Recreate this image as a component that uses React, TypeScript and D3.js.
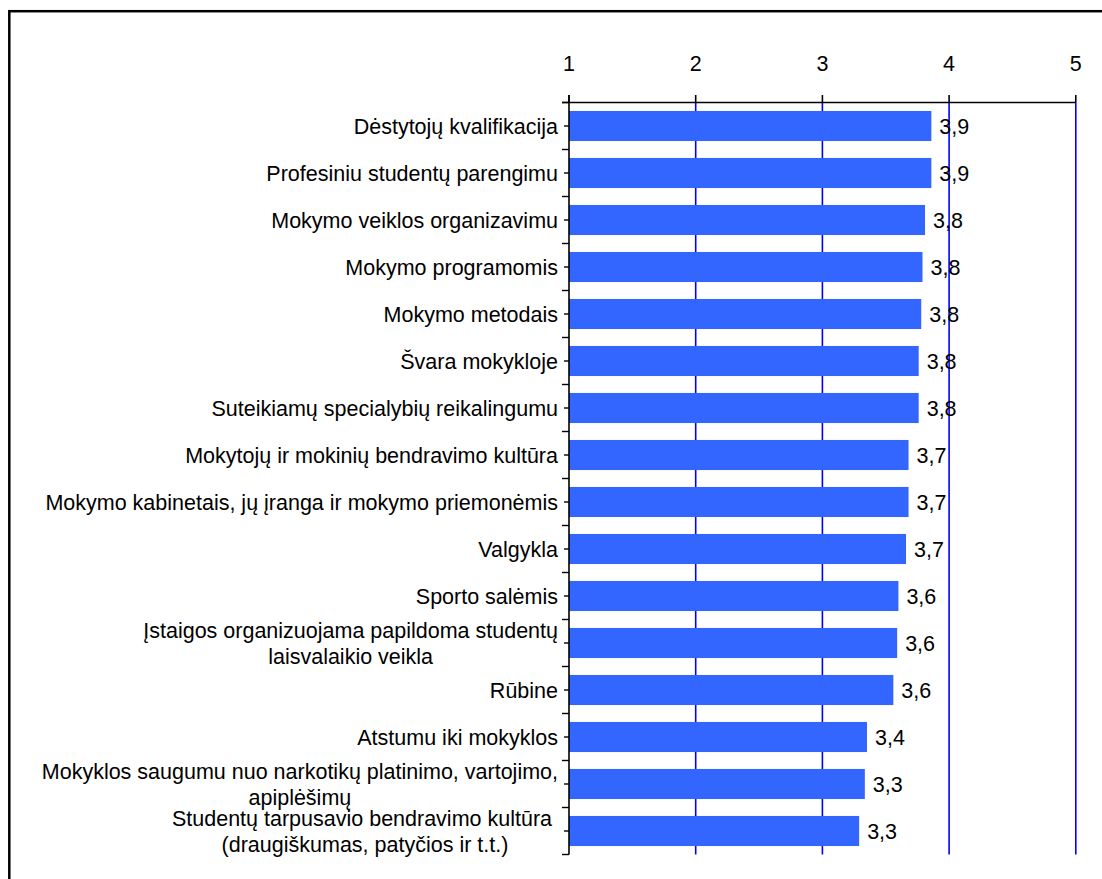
import React from "react";
import * as d3 from "d3";

const categories: string[][] = [
  ["Dėstytojų kvalifikacija"],
  ["Profesiniu studentų parengimu"],
  ["Mokymo veiklos organizavimu"],
  ["Mokymo programomis"],
  ["Mokymo metodais"],
  ["Švara mokykloje"],
  ["Suteikiamų specialybių reikalingumu"],
  ["Mokytojų ir mokinių bendravimo kultūra"],
  ["Mokymo kabinetais, jų įranga ir mokymo priemonėmis"],
  ["Valgykla"],
  ["Sporto salėmis"],
  ["Įstaigos organizuojama papildoma studentų", "laisvalaikio veikla"],
  ["Rūbine"],
  ["Atstumu iki mokyklos"],
  ["Mokyklos saugumu nuo narkotikų platinimo, vartojimo,", "apiplėšimų"],
  ["Studentų tarpusavio bendravimo kultūra ", "(draugiškumas, patyčios ir t.t.)"],
];

const values: number[] = [
  3.86, 3.86, 3.81, 3.79, 3.78, 3.76, 3.76, 3.68, 3.68, 3.66, 3.6, 3.59, 3.56,
  3.352, 3.335, 3.29,
];

const xTicks: number[] = [1, 2, 3, 4, 5];

const FONT = "'Liberation Sans', Arial, sans-serif";
const FS = 21.5;

let ctx: CanvasRenderingContext2D | null = null;
function measure(t: string): number {
  if (!ctx) {
    const c = document.createElement("canvas");
    ctx = c.getContext("2d");
  }
  if (!ctx) return t.length * FS * 0.5;
  ctx.font = `${FS}px 'Liberation Sans', Arial, sans-serif`;
  return ctx.measureText(t).width;
}

export default function App() {
  const W = 1102;
  const H = 879;
  const left = 569;
  const right = 1075.8;
  const top = 102.5;
  const bottom = 854.5;

  const x = d3.scaleLinear().domain([1, 5]).range([left, right]);
  const keys = categories.map((_, i) => String(i));
  const y = d3
    .scaleBand<string>()
    .domain(keys)
    .range([top, bottom])
    .paddingInner(0.36)
    .paddingOuter(0.18);
  const step = y.step();

  const labelRight = 558;
  const lineH = 26;

  const tickYs: { y: number; long: boolean }[] = [];
  for (let i = 0; i <= categories.length; i++) {
    tickYs.push({ y: top + i * step, long: true });
    if (i < categories.length) tickYs.push({ y: top + (i + 0.5) * step, long: false });
  }

  return (
    <div style={{ position: "absolute", left: 0, top: 0, width: W, height: H, overflow: "hidden" }}>
      <svg width={W} height={H} style={{ display: "block", background: "#fff" }} fontFamily={FONT}>
        <rect x={0} y={0} width={W} height={H} fill="#fff" />
        {/* frame */}
        <rect x={9.3} y={11.2} width={1300} height={1000} fill="none" stroke="#000" strokeWidth={2.5} />

        {/* gridlines */}
        {xTicks
          .filter((t) => t > 1)
          .map((t) => (
            <line key={"g" + t} x1={x(t)} x2={x(t)} y1={top} y2={bottom} stroke="#0000ff" strokeWidth={1.6} />
          ))}

        {/* bars */}
        {values.map((v, i) => (
          <rect
            key={"b" + i}
            x={x(1)}
            y={y(String(i))}
            width={x(v) - x(1)}
            height={y.bandwidth()}
            fill="#3366ff"
          />
        ))}

        {/* top axis */}
        <line x1={562} x2={x(5)} y1={top} y2={top} stroke="#000" strokeWidth={1.6} />
        {xTicks.map((t) => (
          <g key={"t" + t}>
            <line x1={x(t)} x2={x(t)} y1={95} y2={top} stroke="#000" strokeWidth={1.6} />
            <text x={x(t)} y={71} textAnchor="middle" fontSize={FS} fill="#000">
              {t}
            </text>
          </g>
        ))}

        {/* left axis */}
        <line x1={left} x2={left} y1={95} y2={bottom} stroke="#000" strokeWidth={1.6} />
        {tickYs.map((tk, i) => (
          <line
            key={"lt" + i}
            x1={tk.long ? 562 : 564}
            x2={left}
            y1={tk.y}
            y2={tk.y}
            stroke="#000"
            strokeWidth={1.4}
          />
        ))}

        {/* category labels */}
        {categories.map((lines, i) => {
          const cy = (y(String(i)) as number) + y.bandwidth() / 2;
          if (lines.length === 1) {
            return (
              <text
                key={"c" + i}
                x={labelRight}
                y={cy}
                dy="0.35em"
                textAnchor="end"
                fontSize={FS}
                fill="#000"
              >
                {lines[0]}
              </text>
            );
          }
          const bw = Math.max(...lines.map(measure));
          const cx = labelRight - bw / 2;
          const y0 = cy - ((lines.length - 1) * lineH) / 2;
          return (
            <text key={"c" + i} fontSize={FS} fill="#000" textAnchor="middle" style={{ whiteSpace: "pre" }}>
              {lines.map((l, j) => (
                <tspan key={j} x={cx} y={y0 + j * lineH} dy="0.35em">
                  {l}
                </tspan>
              ))}
            </text>
          );
        })}

        {/* value labels */}
        {values.map((v, i) => (
          <text
            key={"v" + i}
            x={x(v) + 8}
            y={(y(String(i)) as number) + y.bandwidth() / 2}
            dy="0.35em"
            fontSize={FS}
            fill="#000"
          >
            {v.toFixed(1).replace(".", ",")}
          </text>
        ))}
      </svg>
    </div>
  );
}
